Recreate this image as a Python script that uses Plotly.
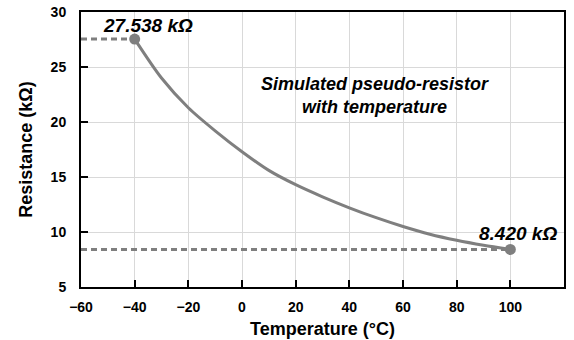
import plotly.graph_objects as go

# Data
temps = [-40, -30, -20, -10, 0, 10, 20, 30, 40, 50, 60, 70, 80, 90, 100]
resistance = [27.538, 24.0, 21.3, 19.2, 17.3, 15.6, 14.3, 13.2, 12.2, 11.3, 10.5, 9.8, 9.25, 8.8, 8.420]
x_range = [-60, 120]
y_range = [5, 30]
label_start = "27.538 kΩ"
label_end = "8.420 kΩ"
note_text = "Simulated pseudo-resistor<br>with temperature"

GRAY = "#7f7f7f"
FONT = "Liberation Sans, Arial, sans-serif"

fig = go.Figure()

# dashed reference lines
fig.add_trace(go.Scatter(
    x=[x_range[0], temps[0]], y=[resistance[0], resistance[0]],
    mode="lines", line=dict(color=GRAY, width=3, dash="6px,4px"),
    hoverinfo="skip", showlegend=False))
fig.add_trace(go.Scatter(
    x=[x_range[0], temps[-1]], y=[resistance[-1], resistance[-1]],
    mode="lines", line=dict(color=GRAY, width=3, dash="6px,4px"),
    hoverinfo="skip", showlegend=False))

# curve
fig.add_trace(go.Scatter(
    x=temps, y=resistance, mode="lines",
    line=dict(color=GRAY, width=3, shape="spline", smoothing=0.8),
    showlegend=False))

# end markers
fig.add_trace(go.Scatter(
    x=[temps[0], temps[-1]], y=[resistance[0], resistance[-1]],
    mode="markers", marker=dict(color=GRAY, size=11),
    showlegend=False))

ann_font = dict(family=FONT, size=19, color="black", weight="bold", style="italic")
fig.add_annotation(x=temps[0], y=resistance[0], text=label_start, showarrow=False,
                   xshift=13, yshift=14, font=ann_font)
fig.add_annotation(x=temps[-1], y=resistance[-1], text=label_end, showarrow=False,
                   xshift=8, yshift=16, font=ann_font)
fig.add_annotation(xref="paper", yref="paper", x=0.609, y=0.698, text=note_text,
                   showarrow=False, align="center", xanchor="center", yanchor="middle",
                   font=dict(family=FONT, size=18, color="black", weight="bold", style="italic"))

axis_common = dict(
    showgrid=True, gridcolor="#d9d9d9", gridwidth=1,
    showline=True, linecolor="black", linewidth=2, mirror=True,
    ticks="inside", ticklen=7, tickwidth=2, tickcolor="black",
    zeroline=False, automargin=False,
    tickfont=dict(family=FONT, size=14, color="black", weight="bold"),
)

fig.update_xaxes(range=x_range, dtick=20, tick0=-60, ticklabelstandoff=6,
                 title=dict(text="Temperature (°C)", standoff=9,
                            font=dict(family=FONT, size=18, color="black", weight="bold")),
                 **axis_common)
fig.update_yaxes(range=y_range, dtick=5, tick0=5, ticklabelstandoff=10,
                 title=dict(text="Resistance (kΩ)", standoff=13,
                            font=dict(family=FONT, size=18, color="black", weight="bold")),
                 **axis_common)

fig.update_layout(
    width=574, height=340,
    margin=dict(l=81, r=10, t=12, b=53),
    plot_bgcolor="white", paper_bgcolor="white",
    font=dict(family=FONT, color="black"),
)

fig.write_html("out.html")
